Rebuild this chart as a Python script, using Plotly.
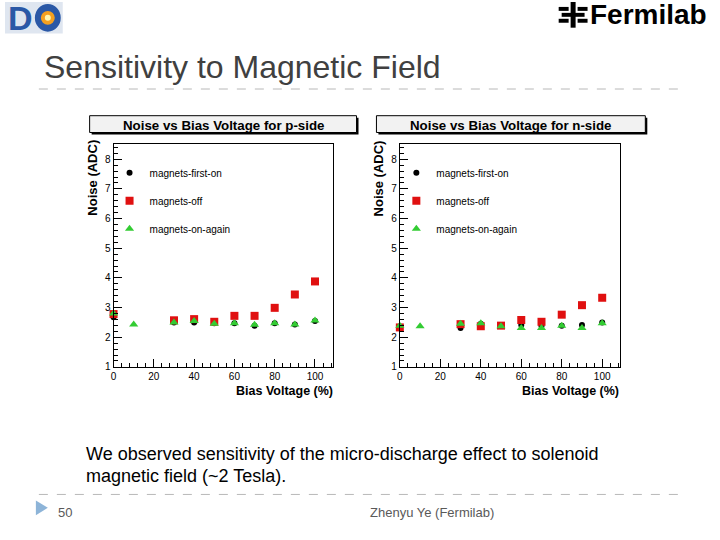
import plotly.graph_objects as go

# ---------------- data ----------------
bias_p_first = [0, 30, 40, 50, 60, 70, 80, 90, 100]
noise_p_first = [2.67, 2.50, 2.50, 2.47, 2.47, 2.39, 2.47, 2.43, 2.55]
bias_p_off = [0, 30, 40, 50, 60, 70, 80, 90, 100]
noise_p_off = [2.78, 2.57, 2.61, 2.52, 2.72, 2.72, 2.99, 3.44, 3.88]
bias_p_again = [0, 10, 30, 40, 50, 60, 70, 80, 90, 100]
noise_p_again = [2.80, 2.43, 2.50, 2.55, 2.45, 2.47, 2.42, 2.47, 2.43, 2.56]

bias_n_first = [0, 30, 40, 50, 60, 70, 80, 90, 100]
noise_n_first = [2.35, 2.31, 2.45, 2.38, 2.41, 2.38, 2.39, 2.41, 2.50]
bias_n_off = [0, 30, 40, 50, 60, 70, 80, 90, 100]
noise_n_off = [2.33, 2.44, 2.37, 2.39, 2.58, 2.52, 2.76, 3.08, 3.33]
bias_n_again = [0, 10, 30, 40, 50, 60, 70, 80, 90, 100]
noise_n_again = [2.39, 2.37, 2.45, 2.47, 2.37, 2.31, 2.31, 2.39, 2.31, 2.47]

series_names = ["magnets-first-on", "magnets-off", "magnets-on-again"]
x_ticks = [0, 20, 40, 60, 80, 100]
y_ticks = [1, 2, 3, 4, 5, 6, 7, 8]

W, H = 720, 540
def PX(x):
    return x / W
def PY(y):
    return 1 - y / H

ROOT_FONT = "Liberation Sans"
SLIDE_FONT = "Liberation Sans"

styles = [
    dict(symbol="circle", size=6, color="#000000"),
    dict(symbol="square", size=8, color="#e01010"),
    dict(symbol="triangle-up", size=8, color="#33cc33"),
]

fig = go.Figure()

panels = [
    ("x", "y", "legend", [(bias_p_first, noise_p_first), (bias_p_off, noise_p_off), (bias_p_again, noise_p_again)]),
    ("x2", "y2", "legend2", [(bias_n_first, noise_n_first), (bias_n_off, noise_n_off), (bias_n_again, noise_n_again)]),
]
for xa, ya, lg, data in panels:
    for i, ((xs, ys), st) in enumerate(zip(data, styles)):
        fig.add_trace(go.Scatter(
            x=xs, y=ys, mode="markers", name=series_names[i],
            xaxis=xa, yaxis=ya, legend=lg, legendgroup=lg + str(i),
            marker=dict(symbol=st["symbol"], size=st["size"], color=st["color"],
                        line=dict(width=0)),
            cliponaxis=False,
        ))

axis_common = dict(
    showgrid=False, zeroline=False, showline=True, linecolor="black", linewidth=1,
    mirror=True, ticks="inside", ticklen=8, tickcolor="black", tickwidth=1,
    tickfont=dict(family=ROOT_FONT, size=10, color="black"),
)
xa_common = dict(axis_common, range=[0, 109], tickvals=x_ticks,
                 minor=dict(dtick=4, tick0=0, ticks="inside", ticklen=4, tickcolor="black"))
ya_common = dict(axis_common, range=[1, 8.5], tickvals=y_ticks,
                 minor=dict(dtick=0.2, tick0=1, ticks="inside", ticklen=4, tickcolor="black"))

fig.update_layout(
    width=W, height=H, margin=dict(l=0, r=0, t=0, b=0),
    paper_bgcolor="white", plot_bgcolor="white",
    showlegend=True,
    xaxis=dict(xa_common, domain=[PX(111), PX(331.5)], anchor="y"),
    yaxis=dict(ya_common, domain=[PY(371), PY(146)], anchor="x"),
    xaxis2=dict(xa_common, domain=[PX(398.5), PX(620)], anchor="y2"),
    yaxis2=dict(ya_common, domain=[PY(371), PY(146)], anchor="x2"),
    legend=dict(x=PX(107), y=PY(160), xanchor="left", yanchor="top",
                bgcolor="rgba(0,0,0,0)", font=dict(family=ROOT_FONT, size=10, color="black"),
                traceorder="grouped", tracegroupgap=9, itemwidth=30),
    legend2=dict(x=PX(395), y=PY(160), xanchor="left", yanchor="top",
                 bgcolor="rgba(0,0,0,0)", font=dict(family=ROOT_FONT, size=10, color="black"),
                 traceorder="grouped", tracegroupgap=9, itemwidth=30),
)

shapes = []
annotations = []

# ROOT title boxes with shadow
for (x0, x1, txt) in [(87, 355, "Noise vs Bias Voltage for p-side"),
                      (375, 645, "Noise vs Bias Voltage for n-side")]:
    shapes.append(dict(type="rect", xref="paper", yref="paper",
                       x0=PX(x0 + 2), x1=PX(x1 + 2), y0=PY(136), y1=PY(119),
                       fillcolor="black", line=dict(width=0)))
    shapes.append(dict(type="rect", xref="paper", yref="paper",
                       x0=PX(x0), x1=PX(x1), y0=PY(134), y1=PY(117),
                       fillcolor="#f2f2f2", line=dict(color="black", width=1)))
    annotations.append(dict(xref="paper", yref="paper", x=PX((x0 + x1) / 2), y=PY(126.5),
                            text="<b>" + txt + "</b>", showarrow=False,
                            font=dict(family=ROOT_FONT, size=13.3, color="black"),
                            xanchor="center", yanchor="middle"))

# axis titles
for (yx, xr) in [(90, 333), (378, 621)]:
    annotations.append(dict(xref="paper", yref="paper", x=PX(yx), y=PY(180),
                            text="<b>Noise (ADC)</b>", showarrow=False, textangle=-90,
                            font=dict(family=ROOT_FONT, size=13, color="black"),
                            xanchor="center", yanchor="middle"))
    annotations.append(dict(xref="paper", yref="paper", x=PX(xr), y=PY(395),
                            text="<b>Bias Voltage (%)</b>", showarrow=False,
                            font=dict(family=ROOT_FONT, size=12.5, color="black"),
                            xanchor="right", yanchor="middle"))

# slide decorations
annotations.append(dict(xref="paper", yref="paper", x=PX(39), y=PY(68),
                        text="Sensitivity to Magnetic Field", showarrow=False,
                        font=dict(family=SLIDE_FONT, size=32, color="#404040"),
                        xanchor="left", yanchor="middle"))
for yy in [90, 500]:
    shapes.append(dict(type="line", xref="paper", yref="paper",
                       x0=PX(36), x1=PX(686), y0=PY(yy), y1=PY(yy),
                       line=dict(color="#b8b8b8", width=1, dash="dash")))

annotations.append(dict(xref="paper", yref="paper", x=PX(81), y=PY(459),
                        text="We observed sensitivity of the micro-discharge effect to solenoid",
                        showarrow=False, font=dict(family=SLIDE_FONT, size=18, color="black"),
                        xanchor="left", yanchor="middle"))
annotations.append(dict(xref="paper", yref="paper", x=PX(81), y=PY(481),
                        text="magnetic field (~2 Tesla).",
                        showarrow=False, font=dict(family=SLIDE_FONT, size=18, color="black"),
                        xanchor="left", yanchor="middle"))

# footer
shapes.append(dict(type="path", xref="paper", yref="paper",
                   path=f"M {PX(33)},{PY(506)} L {PX(33)},{PY(521)} L {PX(45)},{PY(513.5)} Z",
                   fillcolor="#8db4d8", line=dict(width=0)))
annotations.append(dict(xref="paper", yref="paper", x=PX(53), y=PY(518),
                        text="50", showarrow=False,
                        font=dict(family=SLIDE_FONT, size=13, color="#595959"),
                        xanchor="left", yanchor="middle"))
annotations.append(dict(xref="paper", yref="paper", x=PX(431), y=PY(518),
                        text="Zhenyu Ye (Fermilab)", showarrow=False,
                        font=dict(family=SLIDE_FONT, size=13, color="#595959"),
                        xanchor="center", yanchor="middle"))

# D0 logo (approximation)
shapes.append(dict(type="rect", xref="paper", yref="paper",
                   x0=PX(2), x1=PX(60), y0=PY(34), y1=PY(2),
                   fillcolor="#dfe6f0", line=dict(width=0)))
annotations.append(dict(xref="paper", yref="paper", x=PX(18), y=PY(18),
                        text="<b>D</b>", showarrow=False,
                        font=dict(family=SLIDE_FONT, size=34, color="#2a58a6"),
                        xanchor="center", yanchor="middle"))
shapes.append(dict(type="circle", xref="paper", yref="paper",
                   x0=PX(32), x1=PX(58), y0=PY(32), y1=PY(4),
                   fillcolor="#2a58a6", line=dict(width=0)))
shapes.append(dict(type="circle", xref="paper", yref="paper",
                   x0=PX(38), x1=PX(52), y0=PY(25), y1=PY(11),
                   fillcolor="#f4a020", line=dict(width=0)))
shapes.append(dict(type="circle", xref="paper", yref="paper",
                   x0=PX(42), x1=PX(48), y0=PY(21), y1=PY(15),
                   fillcolor="#fff6b0", line=dict(width=0)))

# Fermilab logo
annotations.append(dict(xref="paper", yref="paper", x=PX(587), y=PY(15),
                        text="<b>Fermilab</b>", showarrow=False,
                        font=dict(family=SLIDE_FONT, size=28, color="black"),
                        xanchor="left", yanchor="middle"))
for (x0, x1, y0, y1) in [(570, 575, 2, 28),
                         (558, 568, 7, 11), (577, 587, 7, 11),
                         (558, 568, 19, 23), (577, 587, 19, 23),
                         (561, 584, 13, 17)]:
    shapes.append(dict(type="rect", xref="paper", yref="paper",
                       x0=PX(x0), x1=PX(x1), y0=PY(y1), y1=PY(y0),
                       fillcolor="black", line=dict(width=0)))

fig.update_layout(shapes=shapes, annotations=annotations)
fig.write_html("out.html")
